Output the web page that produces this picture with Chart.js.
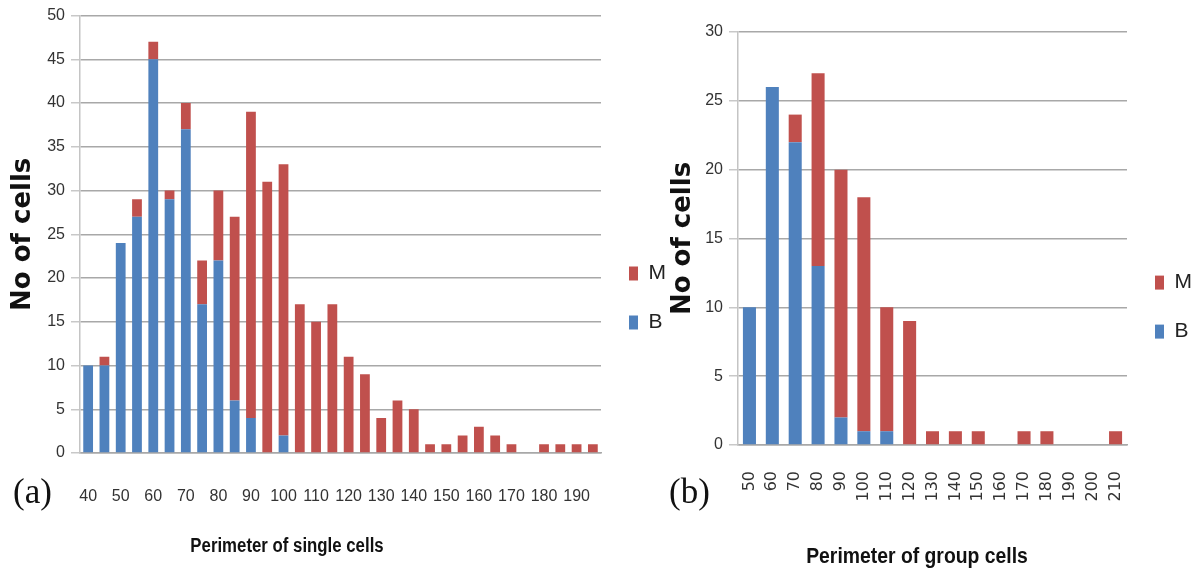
<!DOCTYPE html>
<html lang="en">

<head>
    <meta charset="UTF-8">
    <title>Perimeter of cells</title>
    <script src="https://cdn.jsdelivr.net/npm/chart.js"></script>
    <style>
        body { margin: 0; background: #fff; width: 1194px; height: 575px; position: relative; overflow: hidden; }
        .box { position: absolute; top: 0; height: 575px; }
        #boxA { left: 0; width: 676px; }
        #boxB { left: 660px; width: 542px; }
        .tag { position: absolute; top: 472px; font-family: "Liberation Serif", "DejaVu Serif", serif; font-size: 35px; color: #111; }
        .xtitle { position: absolute; font-family: "Liberation Sans", sans-serif; font-weight: bold; color: #111; white-space: nowrap; }
    </style>
</head>

<body>
    <div class="box" id="boxA"><canvas id="chartA"></canvas></div>
    <div class="box" id="boxB"><canvas id="chartB"></canvas></div>
    <div class="tag" style="left: 13px;">(a)</div>
    <div class="tag" style="left: 669px;">(b)</div>
    <!-- the source titles use a narrow face, so squeeze them a little -->
    <div class="xtitle" style="left: 287px; top: 534px; font-size: 20px; transform: translateX(-50%) scaleX(0.84);">Perimeter of single cells</div>
    <div class="xtitle" style="left: 917px; top: 543px; font-size: 22px; transform: translateX(-50%) scaleX(0.88);">Perimeter of group cells</div>

    <script>
        // (a) single cells, perimeter classes of 5
        const singleLabels = ['40', '45', '50', '55', '60', '65', '70', '75', '80', '85', '90', '95', '100', '105', '110', '115',
            '120', '125', '130', '135', '140', '145', '150', '155', '160', '165', '170', '175', '180', '185', '190', '195'];
        const singleB = [10, 10, 24, 27, 45, 29, 37, 17, 22, 6, 4, 0, 2, 0, 0, 0,
            0, 0, 0, 0, 0, 0, 0, 0, 0, 0, 0, 0, 0, 0, 0, 0];
        const singleM = [0, 1, 0, 2, 2, 1, 3, 5, 8, 21, 35, 31, 31, 17, 15, 17,
            11, 9, 4, 6, 5, 1, 1, 2, 3, 2, 1, 0, 1, 1, 1, 1];

        // (b) group cells, perimeter classes of 10
        const groupLabels = ['50', '60', '70', '80', '90', '100', '110', '120', '130', '140', '150', '160', '170', '180', '190', '200', '210'];
        const groupB = [10, 26, 22, 13, 2, 1, 1, 0, 0, 0, 0, 0, 0, 0, 0, 0, 0];
        const groupM = [0, 0, 2, 14, 18, 17, 9, 9, 1, 1, 1, 0, 1, 1, 0, 0, 1];

        const blue = '#4f81bd';
        const red = '#c0504d';
        const gridGray = '#a8a8a8';
        const tickFont = { family: '"Liberation Sans", sans-serif', size: 16 };

        function makeChart(id, labels, b, m, opt) {
            return new Chart(document.getElementById(id), {
                type: 'bar',
                data: {
                    labels: labels,
                    datasets: [
                        { label: 'B', data: b, backgroundColor: blue, barPercentage: opt.bar, categoryPercentage: 1 },
                        { label: 'M', data: m, backgroundColor: red, barPercentage: opt.bar, categoryPercentage: 1 }
                    ]
                },
                options: {
                    responsive: true,
                    maintainAspectRatio: false,
                    animation: false,
                    layout: { padding: { top: opt.top, right: 0, left: 0, bottom: 0 } },
                    plugins: {
                        tooltip: { enabled: false },
                        legend: {
                            position: 'right',
                            reverse: true,
                            // empty title only nudges the two entries down a bit
                            title: { display: true, text: ' ', padding: 0, font: { size: opt.legendNudge } },
                            labels: {
                                boxWidth: 9,
                                boxHeight: 14,
                                padding: 28,
                                color: '#222',
                                font: { family: '"Liberation Sans", sans-serif', size: 21 }
                            }
                        }
                    },
                    scales: {
                        x: {
                            stacked: true,
                            grid: { display: false, drawTicks: false },
                            border: { color: gridGray, width: 1.5 },
                            ticks: {
                                autoSkip: false,
                                minRotation: opt.rot,
                                maxRotation: opt.rot,
                                padding: opt.xPad,
                                color: '#333',
                                font: opt.xFont,
                                callback: function (v, i) {
                                    return i % opt.every === 0 ? labels[i] : '';
                                }
                            },
                            afterFit: function (s) { s.height = opt.xHeight; }
                        },
                        y: {
                            stacked: true,
                            min: 0,
                            max: opt.max,
                            ticks: { stepSize: 5, padding: 6, color: '#333', font: tickFont },
                            grid: { color: gridGray, lineWidth: 1.5, tickLength: 9, tickColor: '#c8c8c8' },
                            border: { color: '#c4c4c4', width: 1.5 },
                            title: {
                                display: true,
                                text: 'No of cells',
                                color: '#111',
                                padding: { top: 8, bottom: 0 },
                                font: { family: '"DejaVu Sans", sans-serif', weight: 'bold', size: 26 }
                            },
                            afterFit: function (s) { s.width = opt.yWidth; }
                        }
                    }
                }
            });
        }

        makeChart('chartA', singleLabels, singleB, singleM, {
            bar: 0.6, max: 50, top: 15, rot: 0, every: 2, xPad: 34, xHeight: 122, yWidth: 80,
            legendNudge: 5, xFont: tickFont
        });

        makeChart('chartB', groupLabels, groupB, groupM, {
            bar: 0.57, max: 30, top: 32, rot: 90, every: 1, xPad: 26, xHeight: 130, yWidth: 78,
            legendNudge: 6, xFont: { family: '"DejaVu Sans", sans-serif', size: 16 }
        });
    </script>
</body>

</html>
